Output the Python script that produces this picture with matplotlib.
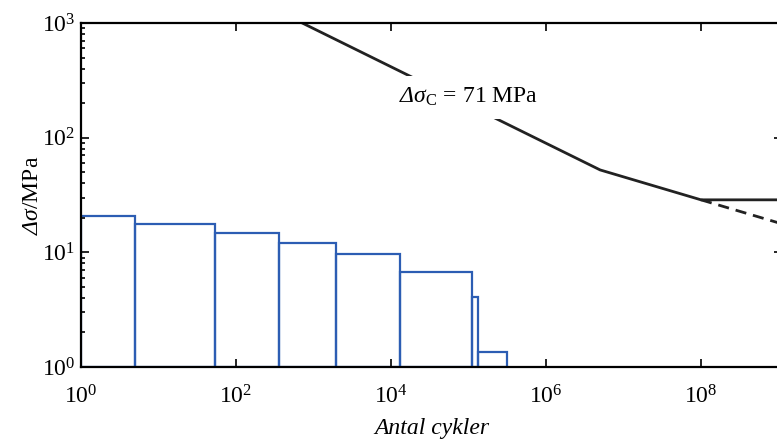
import numpy as np
import matplotlib.pyplot as plt

plt.rcParams['font.family'] = 'Liberation Serif'
plt.rcParams['mathtext.fontset'] = 'custom'
plt.rcParams['mathtext.rm'] = 'Liberation Serif'
plt.rcParams['mathtext.it'] = 'Liberation Serif:italic'
plt.rcParams['mathtext.cal'] = 'Liberation Serif:italic'

# S-N curve (detail category 71)
sn_N = [7.16e2, 5e6, 1e8, 1e10]
sn_S = [1000, 52.3, 28.7, 28.7]
dash_N = [1e8, 1e10]
dash_S = [28.7, 11.4]

# stress range spectrum (bin edges in cycles, stress range in MPa)
edges = [1, 5.0, 54, 362, 1950, 13100, 112000, 134000, 311000]
heights = [20.6, 17.5, 14.8, 12.1, 9.6, 6.74, 4.04, 1.36]

blue = '#2c5db3'

fig = plt.figure(figsize=(7.77, 4.41), dpi=100)
ax = fig.add_axes([81/777, 74/441, 701/777, 344/441])

left = np.array(edges[:-1])
w = np.diff(edges)
h = np.array(heights)
ax.bar(left, h - 1, width=w, bottom=1, align='edge', fill=False,
       edgecolor=blue, linewidth=1.6)

ax.plot(sn_N, sn_S, color='#222222', lw=2.0)
ax.plot(dash_N, dash_S, color='#222222', lw=2.0, ls=(0, (4, 2.5)))

ax.text(1.0e5, 225, r'$\mathcal{\Delta\sigma}_{\mathrm{C}}$ = 71 MPa',
        fontsize=17, ha='center', va='center',
        bbox=dict(boxstyle='square,pad=0.45', fc='white', ec='none'))

ax.set_xscale('log')
ax.set_yscale('log')
ax.set_xlim(1, 1.11e9)
ax.set_ylim(1, 1e3)
ax.set_xticks([1, 1e2, 1e4, 1e6, 1e8])
ax.set_yticks([1, 1e1, 1e2, 1e3])

ax.tick_params(which='both', direction='in', top=True, right=True,
               labelsize=17, width=1.2)
ax.tick_params(which='major', length=6)
ax.tick_params(which='minor', length=3)
ax.tick_params(axis='x', pad=13)
ax.tick_params(axis='y', pad=4)
for s in ax.spines.values():
    s.set_linewidth(1.6)

ax.set_xlabel('Antal cykler', fontsize=17, style='italic', labelpad=7)
ax.set_ylabel(r'$\mathcal{\Delta\sigma}$/MPa', fontsize=17, labelpad=-1)

plt.savefig('out.png', dpi=100)
